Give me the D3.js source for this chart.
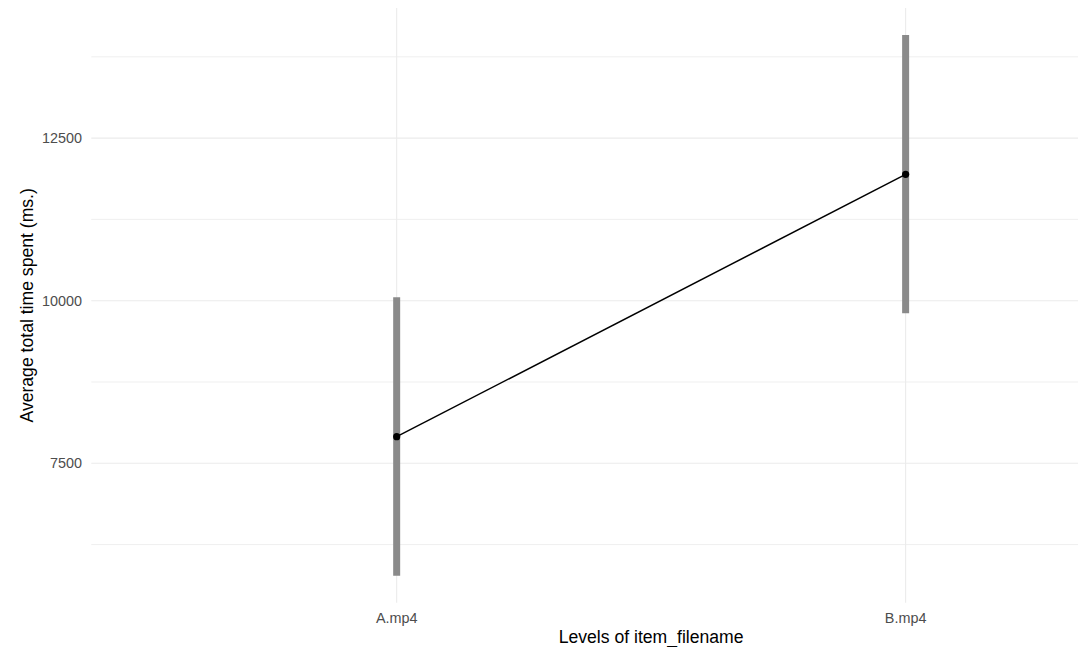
<!DOCTYPE html>
<html>
<head>
<meta charset="utf-8">
<script src="https://cdn.jsdelivr.net/npm/d3@7"></script>
<style>
  body { margin: 0; background: #fff; }
  svg { display: block; font-family: "Liberation Sans", Arial, sans-serif; }
</style>
</head>
<body>
<svg id="chart"></svg>
<script>
// data
const categories = ["A.mp4", "B.mp4"];
const means = [7909, 11943];
const lower = [5772, 9806];
const upper = [10052, 14085];
const yTicks = [7500, 10000, 12500];
const yMinor = [6250, 8750, 11250, 13750];

const width = 1078, height = 647;
// panel runs past the right edge (the reference is cropped there)
const margin = { top: 8, left: 91.3, bottom: 602.7, right: 1211 };

const svg = d3.select("#chart")
  .attr("width", width)
  .attr("height", height);

const x = d3.scaleLinear()
  .domain([0.4, 2.6])
  .range([margin.left, margin.right]);

const y = d3.scaleLinear()
  .domain([5356, 14501])
  .range([margin.bottom, margin.top]);

const grid = svg.append("g");

// minor horizontal grid
grid.selectAll(".minor")
  .data(yMinor)
  .join("line")
  .attr("x1", margin.left).attr("x2", margin.right)
  .attr("y1", d => y(d)).attr("y2", d => y(d))
  .attr("stroke", "#ebebeb").attr("stroke-width", 0.8);

// major horizontal grid
grid.selectAll(".major")
  .data(yTicks)
  .join("line")
  .attr("x1", margin.left).attr("x2", margin.right)
  .attr("y1", d => y(d)).attr("y2", d => y(d))
  .attr("stroke", "#ebebeb").attr("stroke-width", 1.1);

// vertical grid at categories
grid.selectAll(".vgrid")
  .data(categories)
  .join("line")
  .attr("x1", (d, i) => x(i + 1)).attr("x2", (d, i) => x(i + 1))
  .attr("y1", margin.top).attr("y2", margin.bottom)
  .attr("stroke", "#ebebeb").attr("stroke-width", 1.1);

// error bars
svg.selectAll(".err")
  .data(categories)
  .join("line")
  .attr("x1", (d, i) => x(i + 1)).attr("x2", (d, i) => x(i + 1))
  .attr("y1", (d, i) => y(lower[i])).attr("y2", (d, i) => y(upper[i]))
  .attr("stroke", "#8a8a8a").attr("stroke-width", 7);

// line
const line = d3.line()
  .x((d, i) => x(i + 1))
  .y(d => y(d));

svg.append("path")
  .datum(means)
  .attr("d", line)
  .attr("fill", "none")
  .attr("stroke", "#000")
  .attr("stroke-width", 1.5);

svg.selectAll(".pt")
  .data(means)
  .join("circle")
  .attr("cx", (d, i) => x(i + 1))
  .attr("cy", d => y(d))
  .attr("r", 3.6)
  .attr("fill", "#000");

// y tick labels
svg.selectAll(".ytick")
  .data(yTicks)
  .join("text")
  .attr("x", 82)
  .attr("y", d => y(d))
  .attr("dy", "0.35em")
  .attr("text-anchor", "end")
  .attr("font-size", 14.4)
  .attr("fill", "#4d4d4d")
  .text(d => d);

// x tick labels
svg.selectAll(".xtick")
  .data(categories)
  .join("text")
  .attr("x", (d, i) => x(i + 1))
  .attr("y", 622.7)
  .attr("text-anchor", "middle")
  .attr("font-size", 14.4)
  .attr("fill", "#4d4d4d")
  .text(d => d);

// axis titles
svg.append("text")
  .attr("x", (margin.left + margin.right) / 2)
  .attr("y", 643)
  .attr("text-anchor", "middle")
  .attr("font-size", 17.6)
  .attr("fill", "#000")
  .text("Levels of item_filename");

svg.append("text")
  .attr("transform", `translate(33,${(margin.top + margin.bottom) / 2}) rotate(-90)`)
  .attr("text-anchor", "middle")
  .attr("font-size", 17.6)
  .attr("fill", "#000")
  .text("Average total time spent (ms.)");
</script>
</body>
</html>
